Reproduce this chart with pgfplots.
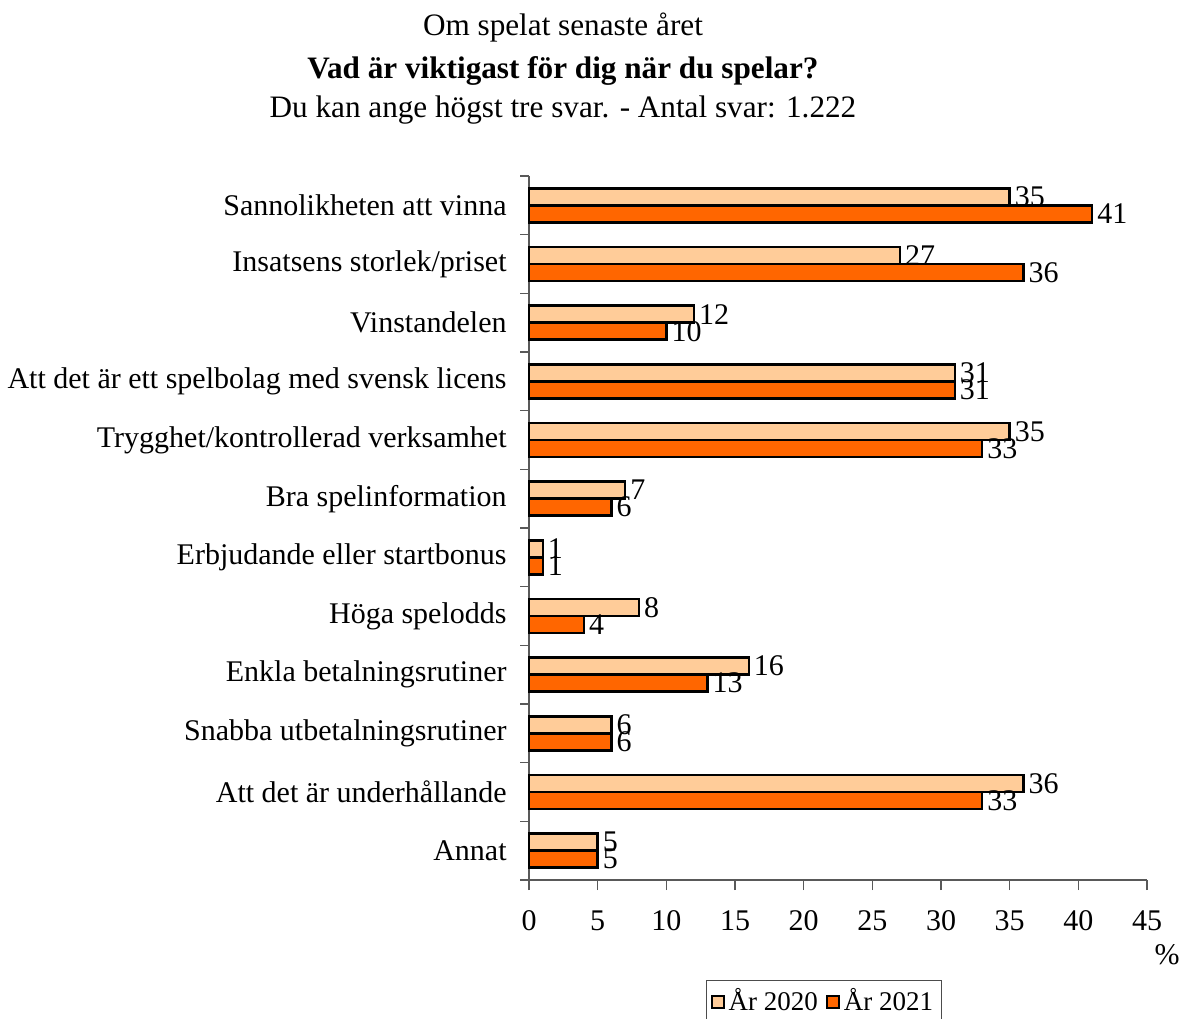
\documentclass[border=0pt]{standalone}
\usepackage{fontspec}
\setmainfont{Liberation Serif}
\usepackage{pgfplots}
\pgfplotsset{compat=1.18}
\definecolor{light}{HTML}{FFCC99}
\definecolor{dark}{HTML}{FF6600}
\newcommand\fs{\fontsize{15}{18}\selectfont}
\newcommand\ts{\fontsize{15.6}{18}\selectfont}
\begin{document}
\fs
\begin{tikzpicture}
\begin{axis}[
    xbar, scale only axis, width=309pt, height=352pt,
    xmin=0, xmax=45, ymin=-0.5, ymax=11.5,
    clip=false,
    axis lines*=left,
    axis line style={black!65, line width=0.8pt},
    tick pos=left, tick align=outside,
    xtick={0,5,...,45},
    major tick length=5pt, minor tick length=4.5pt,
    tick style={black!65, line width=0.8pt},
    major y tick style={draw=none},
    ytick={0,...,11},
    minor ytick={-0.5,0.5,...,11.5},
    yticklabels={Annat, Att det är underhållande, Snabba utbetalningsrutiner,
        Enkla betalningsrutiner, Höga spelodds, Erbjudande eller startbonus,
        Bra spelinformation, Trygghet/kontrollerad verksamhet,
        Att det är ett spelbolag med svensk licens, Vinstandelen,
        Insatsens storlek/priset, Sannolikheten att vinna},
    /pgf/number format/assume math mode=true,
    every tick label/.append style={font=\fs},
    xticklabel style={yshift=-5pt},
    yticklabel style={xshift=-1pt},
    bar width=8.5pt,
    nodes near coords,
    every node near coord/.append style={font=\fs, black, inner sep=2pt},
    legend columns=2,
    legend style={draw=black!70, at={(0.477,-0.142)}, anchor=north,
        font=\fontsize{13.5}{16}\selectfont, inner sep=2pt,
        /tikz/every even column/.append style={column sep=2pt}},
    legend image code/.code={\draw[#1, line width=1pt] (0pt,-3pt) rectangle (6pt,3pt);},
]
\addplot[fill=light, draw=black, line width=1.2pt, bar shift=4.25pt] coordinates {
    (35,11) (27,10) (12,9) (31,8) (35,7) (7,6)
    (1,5) (8,4) (16,3) (6,2) (36,1) (5,0)
};
\addplot[fill=dark, draw=black, line width=1.2pt, bar shift=-4.25pt] coordinates {
    (41,11) (36,10) (10,9) (31,8) (33,7) (6,6)
    (1,5) (4,4) (13,3) (6,2) (33,1) (5,0)
};
\legend{År 2020, År 2021}
\coordinate (BL) at (rel axis cs:0,0);
\coordinate (TR) at (rel axis cs:1,1);
\node[font=\ts] at (rel axis cs:0,1) [xshift=17pt, yshift=74pt] {Om spelat senaste året};
\node[font=\ts] at (rel axis cs:0,1) [xshift=17pt, yshift=52.5pt] {\bfseries Vad är viktigast för dig när du spelar?};
\node[font=\ts] at (rel axis cs:0,1) [xshift=17pt, yshift=33pt] {Du kan ange högst tre svar. - Antal svar: 1.222};
\node at (rel axis cs:1,0) [xshift=10pt, yshift=-37.5pt] {\%};
\end{axis}
\pgfresetboundingbox
\path ([xshift=-264.5pt,yshift=-69pt]BL) rectangle ([xshift=16pt,yshift=88pt]TR);
\end{tikzpicture}
\end{document}
